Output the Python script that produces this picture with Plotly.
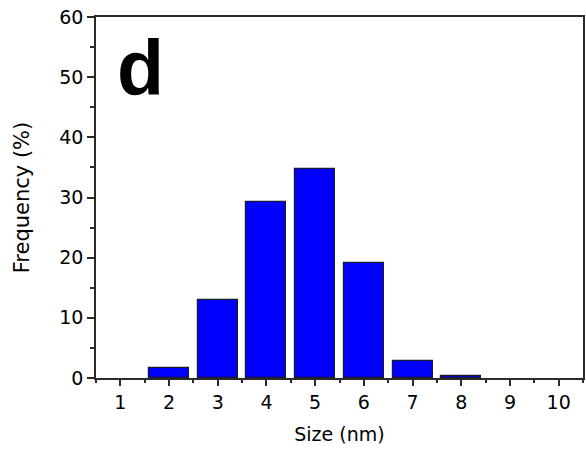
import plotly.graph_objects as go

# size bins (nm) and frequency (%)
sizes = [1, 2, 3, 4, 5, 6, 7, 8, 9, 10]
freq = [0.0, 1.6, 12.9, 29.3, 34.7, 19.1, 2.8, 0.4, 0.0, 0.0]
x_ticks = [1, 2, 3, 4, 5, 6, 7, 8, 9, 10]
y_ticks = [0, 10, 20, 30, 40, 50, 60]
panel_label = "d"

FONT = "DejaVu Sans, sans-serif"
AXIS_COLOR = "#2b2b2b"

# empty bins get no outline, so they don't thicken the x axis line
outline_w = [0 if v == 0 else 1.2 for v in freq]

fig = go.Figure(
    go.Bar(
        x=sizes,
        y=freq,
        width=0.82,
        marker=dict(color="#0000FF", line=dict(color="#1a1a2e", width=outline_w)),
        hoverinfo="skip",
    )
)

# big bold panel letter in the top-left corner
fig.add_annotation(
    text="<b>%s</b>" % panel_label,
    xref="paper", yref="paper",
    x=0.039, y=0.982,
    xanchor="left", yanchor="top",
    showarrow=False,
    font=dict(family="Liberation Sans, Arial, sans-serif", size=77, color="black"),
)

fig.update_layout(
    width=586,
    height=457,
    margin=dict(l=96, r=1, t=17, b=79),
    paper_bgcolor="white",
    plot_bgcolor="white",
    showlegend=False,
    bargap=0,
    font=dict(family=FONT, size=19, color="black"),
    xaxis=dict(
        range=[0.5, 10.5],
        tickvals=x_ticks,
        ticks="outside",
        ticklen=6,
        tickwidth=1.5,
        tickcolor=AXIS_COLOR,
        minor=dict(tick0=0.5, dtick=1, ticks="outside", ticklen=3, tickwidth=1.5, tickcolor=AXIS_COLOR),
        showline=True,
        linecolor=AXIS_COLOR,
        linewidth=1.6,
        mirror=True,
        showgrid=False,
        zeroline=False,
        ticklabeloverflow="allow",
        title=dict(text="Size (nm)", font=dict(size=19), standoff=16),
        tickfont=dict(size=19),
    ),
    yaxis=dict(
        range=[0, 60],
        tickvals=y_ticks,
        ticks="outside",
        ticklen=7,
        tickwidth=1.5,
        tickcolor=AXIS_COLOR,
        minor=dict(tick0=5, dtick=10, ticks="outside", ticklen=4, tickwidth=1.5, tickcolor=AXIS_COLOR),
        showline=True,
        linecolor=AXIS_COLOR,
        linewidth=1.6,
        mirror=True,
        showgrid=False,
        zeroline=False,
        ticklabeloverflow="allow",
        title=dict(text="Frequency (%)", font=dict(size=21), standoff=24),
        tickfont=dict(size=19),
    ),
)

# drop the browser's default 8px body margin so the figure sits at (0, 0)
fig.write_html(
    "out.html",
    config={"displayModeBar": False},
    post_script="document.body.style.margin = '0';",
)
